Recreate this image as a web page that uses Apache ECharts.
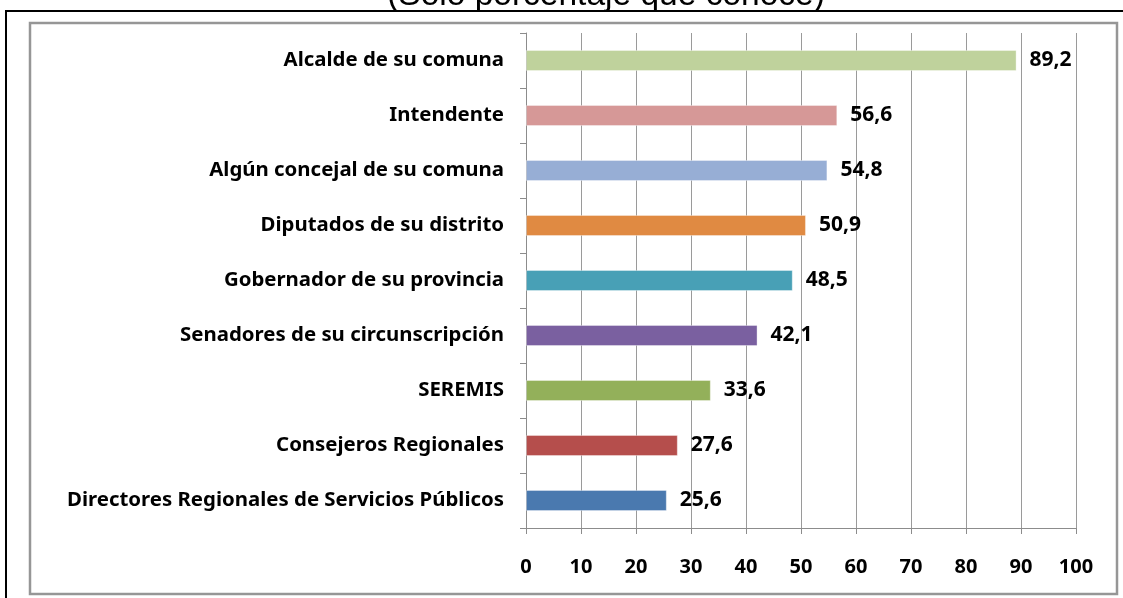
<!DOCTYPE html>
<html><head><meta charset="utf-8">
<script src="https://cdn.jsdelivr.net/npm/echarts@6/dist/echarts.min.js"></script>
<style>html,body{margin:0;padding:0;background:#fff}#c{width:1123px;height:598px}</style>
</head><body><div id="c"></div>
<script>
const categories = ["Directores Regionales de Servicios Públicos","Consejeros Regionales","SEREMIS","Senadores de su circunscripción","Gobernador de su provincia","Diputados de su distrito","Algún concejal de su comuna","Intendente","Alcalde de su comuna"];
const values = [25.6, 27.6, 33.6, 42.1, 48.5, 50.9, 54.8, 56.6, 89.2];
const barColors = ["#4A79AF","#B54E4C","#93B05A","#7A60A0","#48A0B6","#E08A42","#97AED5","#D69897","#BFD29C"];
const titleText = "(Sólo porcentaje que conoce)";
const xTicks = {min: 0, max: 100, interval: 10};

const chart = echarts.init(document.getElementById('c'), null, {renderer: 'canvas'});
const font = "'Noto Sans', 'Open Sans', sans-serif";
chart.setOption({
  animation: false,
  backgroundColor: '#fff',
  graphic: [
    {type: 'text', x: 606, y: -4, style: {text: titleText, font: "33.5px 'Liberation Sans', Arial, sans-serif", fill: '#000', align: 'center', verticalAlign: 'middle'}, z: 1},
    {type: 'rect', shape: {x: 6, y: 11, width: 1130, height: 600}, style: {fill: 'none', stroke: '#000', lineWidth: 2}, z: 2},
    {type: 'rect', shape: {x: 30, y: 23, width: 1087, height: 571}, style: {fill: 'none', stroke: '#969696', lineWidth: 2.5}, z: 2}
  ],
  grid: {left: 526, right: 47, top: 33, bottom: 70, containLabel: false},
  xAxis: {
    type: 'value', min: xTicks.min, max: xTicks.max, interval: xTicks.interval,
    axisLine: {show: true, lineStyle: {color: '#8c8c8c', width: 1}},
    axisTick: {show: true, length: 6, inside: false, lineStyle: {color: '#8c8c8c'}},
    splitLine: {show: true, lineStyle: {color: '#9a9a9a', width: 1}},
    axisLabel: {color: '#000', fontFamily: font, fontWeight: 'bold', fontSize: 20, margin: 29}
  },
  yAxis: {
    type: 'category', data: categories,
    axisLine: {show: true, lineStyle: {color: '#8c8c8c', width: 1}},
    axisTick: {show: true, length: 6, lineStyle: {color: '#8c8c8c'}},
    axisLabel: {color: '#000', fontFamily: font, fontWeight: 'bold', fontSize: 20.4, margin: 22}
  },
  series: [{
    type: 'bar', barWidth: 21,
    data: values.map((v, i) => ({value: v, itemStyle: {color: barColors[i], borderColor: 'rgba(255,255,255,0.35)', borderWidth: 1}})),
    label: {show: true, position: 'right', distance: 13, color: '#000', fontFamily: font, fontWeight: 'bold', fontSize: 21,
      formatter: p => String(p.value).replace('.', ',')}
  }]
});
</script></body></html>
